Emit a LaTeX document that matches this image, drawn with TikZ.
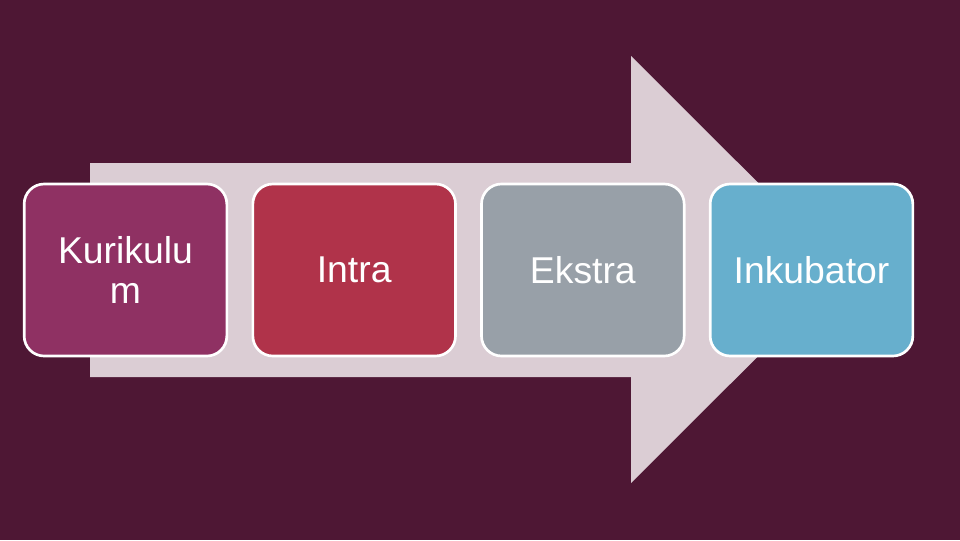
\documentclass[tikz,border=0pt]{standalone}
\usepackage{fontspec}
\setmainfont{Liberation Sans}
\usepackage{tikz}
\usetikzlibrary{positioning}

\definecolor{bgplum}{HTML}{4E1734}
\definecolor{arrowpink}{HTML}{DBCDD4}
\definecolor{kurcol}{HTML}{8F3163}
\definecolor{intracol}{HTML}{B0334A}
\definecolor{ekstracol}{HTML}{98A0A8}
\definecolor{inkubcol}{HTML}{67AFCD}

\begin{document}
\begin{tikzpicture}[
    x=0.75pt, y=-0.75pt,
    stage/.style={rectangle, rounded corners=15pt, draw=white, line width=2pt, outer sep=0pt,
        minimum width=152pt, minimum height=129pt, align=center, text=white,
        font=\fontsize{28}{30}\selectfont},
    flow/.style={fill=arrowpink}
]

% background
\fill[bgplum] (0,0) rectangle (960,540);
\useasboundingbox (0,0) rectangle (960,540);

% big arrow behind the stages
\fill[flow] (90,163) -- (631,163) -- (631,56) -- (845,269.5) -- (631,483) -- (631,377) -- (90,377) -- cycle;

% Stages
\node[stage, fill=kurcol] (kur) at (125.5,270) {Kurikulu\\m};
\node[stage, fill=intracol, right=19.5pt of kur] (intra) {Intra};
\node[stage, fill=ekstracol, right=19.5pt of intra] (ekstra) {Ekstra};
\node[stage, fill=inkubcol, right=19.5pt of ekstra] (inkub) {Inkubator};

\end{tikzpicture}
\end{document}
